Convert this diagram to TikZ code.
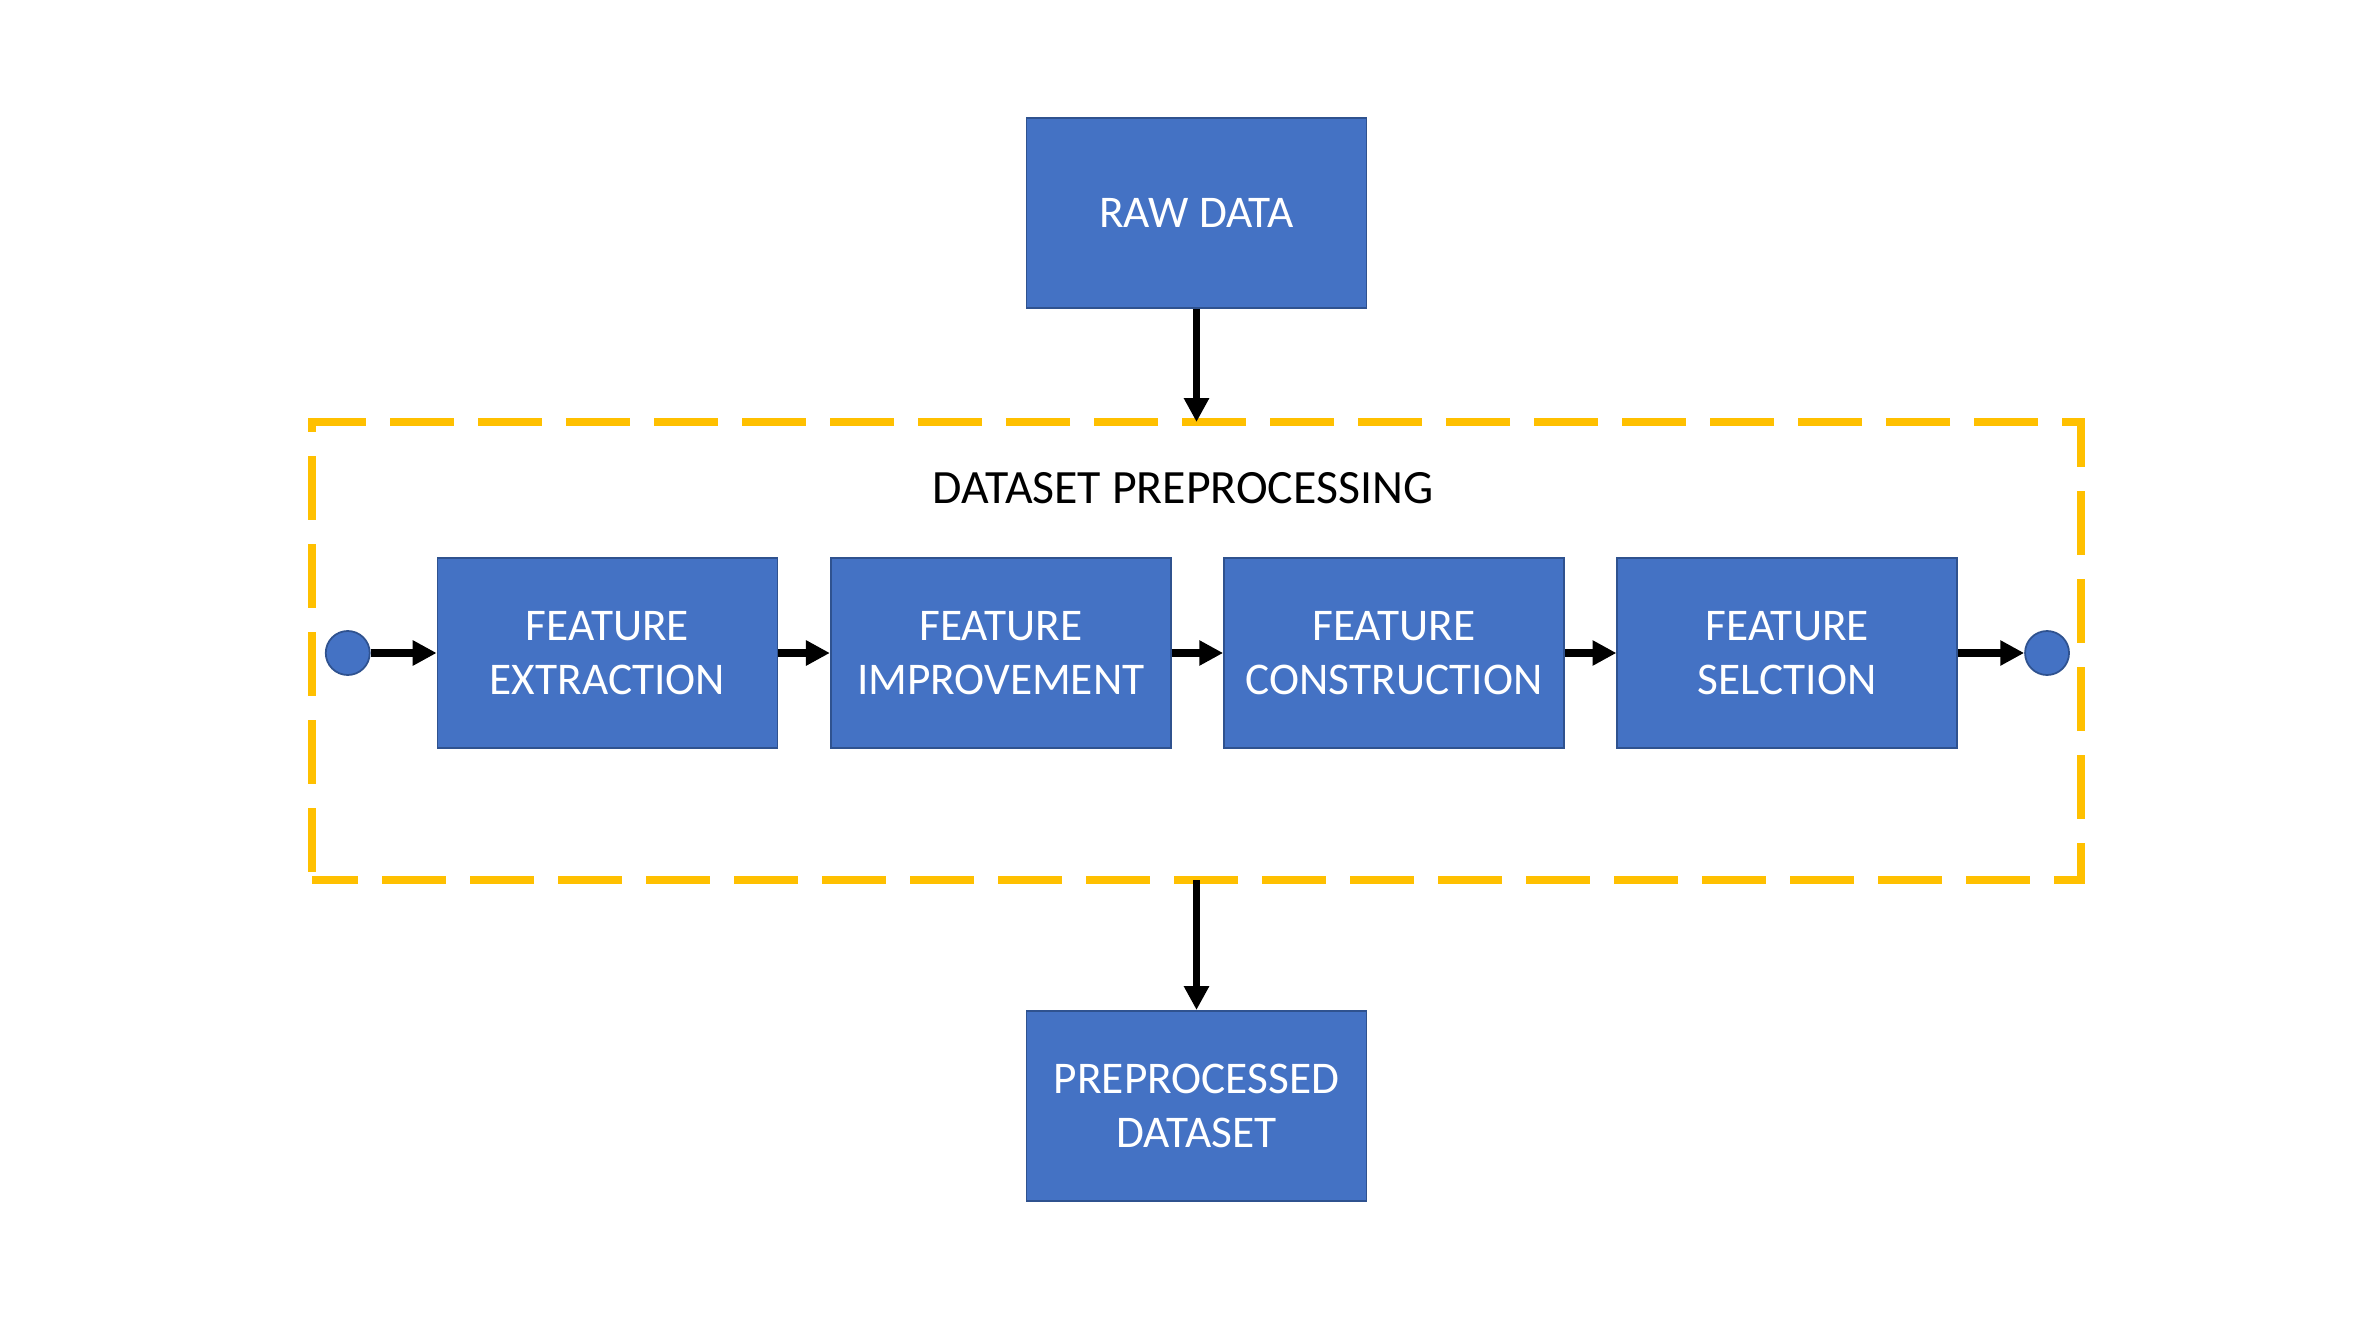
\documentclass[tikz,border=0pt]{standalone}
\usepackage{fontspec}
\setmainfont{Carlito}
\usepackage{tikz}
\usetikzlibrary{arrows.meta, positioning}

\definecolor{boxblue}{HTML}{4472C4}
\definecolor{boxedge}{HTML}{2F528F}
\definecolor{frameyellow}{HTML}{FFC000}

\begin{document}
\begin{tikzpicture}[
  block/.style = {draw=boxedge, line width=0.5pt, fill=boxblue, text=white,
                  minimum width=3.40cm, minimum height=1.90cm, align=center,
                  font=\fontsize{12.9}{15.4}\selectfont},
  dot/.style = {circle, draw=boxedge, line width=0.5pt, fill=boxblue,
                minimum size=0.44cm, inner sep=0pt},
  frame/.style = {draw=frameyellow, line width=2.3pt, dash pattern=on 0.64cm off 0.24cm,
                  dash phase=0.18cm, minimum width=17.69cm, minimum height=4.58cm,
                  outer sep=0pt},
  arrow/.style = {line width=2.2pt, -{Triangle[length=6.8pt, width=6.8pt]}},
  node distance=0.515cm and 0.515cm
]
  \useasboundingbox (0,0) rectangle (23.59,13.27);

  % Preprocessing frame
  \node[frame] (prep) at (11.965,6.76) {};
  \node[font=\fontsize{13.6}{16.2}\selectfont] (title) at (11.83,8.39) {DATASET PREPROCESSING};

  % Input and output
  \node[block, above=1.13cm of prep] (raw) {RAW DATA};
  \node[block, below=1.30cm of prep] (result) {PREPROCESSED\\DATASET};

  % Feature steps
  \node[block] (extract) at (6.075,6.74) {FEATURE\\EXTRACTION};
  \node[block, right=of extract] (improve) {FEATURE\\IMPROVEMENT};
  \node[block, right=of improve] (construct) {FEATURE\\CONSTRUCTION};
  \node[block, right=of construct] (select) {FEATURE\\SELCTION};

  % Start and end points
  \node[dot, left=0.66cm of extract] (start) {};
  \node[dot, right=0.66cm of select] (stop) {};

  % Connections
  \draw[arrow] (raw) -- (prep.north -| raw);
  \draw[arrow] (prep.south -| result) -- (result);
  \draw[arrow] (start) -- (extract);
  \draw[arrow] (extract) -- (improve);
  \draw[arrow] (improve) -- (construct);
  \draw[arrow] (construct) -- (select);
  \draw[arrow] (select) -- (stop);

\end{tikzpicture}
\end{document}
